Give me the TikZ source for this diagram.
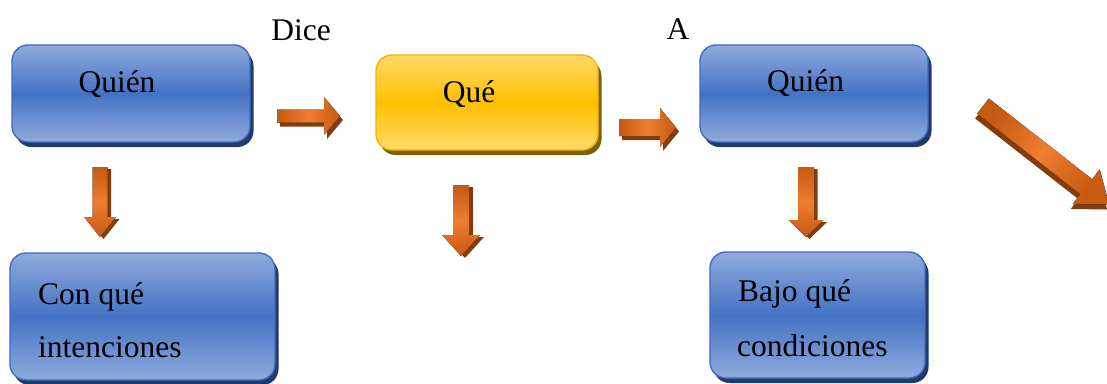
\documentclass[tikz,border=0pt]{standalone}
\usepackage{fontspec}
\setmainfont{Liberation Serif}
\usetikzlibrary{shadows}

\definecolor{blueL}{HTML}{8FAADC}
\definecolor{blueM}{HTML}{4472C4}
\definecolor{blueEdge}{HTML}{3F6CBF}
\definecolor{blueShadow}{HTML}{22396A}
\definecolor{yelL}{HTML}{FFD966}
\definecolor{yelM}{HTML}{FFC000}
\definecolor{yelEdge}{HTML}{F2B700}
\definecolor{yelShadow}{HTML}{7F6000}
\definecolor{orD}{HTML}{C55A11}
\definecolor{orL}{HTML}{ED7D31}
\definecolor{orShadow}{HTML}{843C0C}

\tikzset{
  box/.style={rounded corners=16pt, line width=1.4pt, inner sep=0pt},
  bluebox/.style={box, draw=blueEdge,
    top color=blueL, bottom color=blueL, middle color=blueM,
    general shadow={fill=blueShadow, shadow xshift=3.5pt, shadow yshift=-5pt}},
  yellowbox/.style={box, draw=yelEdge,
    top color=yelL, bottom color=yelL, middle color=yelM,
    general shadow={fill=yelShadow, shadow xshift=3.5pt, shadow yshift=-5pt}},
  label/.style={inner sep=0pt, font=\fontsize{31.5}{38}\selectfont, text=black},
  % block arrow along +x: length, shaft half width, head half width, head length
  arrowpath/.style n args={4}{insert path={
    (0,-#2) -- ({#1-#4},-#2) -- ({#1-#4},-#3) -- (#1,0) --
    ({#1-#4},#3) -- ({#1-#4},#2) -- (0,#2) -- cycle}},
  arrowback/.style={fill=orShadow},
  harrow/.style={left color=orD, right color=orD, middle color=orL},
  varrow/.style={top color=orD, bottom color=orD, middle color=orL},
  darrow/.style={top color=orD, bottom color=orD, middle color=orL, shading angle=52},
}

\begin{document}
\begin{tikzpicture}[x=1pt, y=-1pt]
\useasboundingbox (0,0) rectangle (1107,383);
\clip (0,0) rectangle (1107,383);

% boxes
\node[bluebox, minimum width=238pt, minimum height=97pt] (quien1) at (131,93.5) {};
\node[yellowbox, minimum width=222pt, minimum height=95pt] (que) at (487,102.5) {};
\node[bluebox, minimum width=228pt, minimum height=97pt] (quien2) at (814,93.5) {};
\node[bluebox, minimum width=265pt, minimum height=127pt] (intenciones) at (142.5,316.5) {};
\node[bluebox, minimum width=215pt, minimum height=126pt] (condiciones) at (817.5,315) {};

% texts
\node[label, anchor=base] (tquien1) at (117,92) {Quién};
\node[label, anchor=base] (tque) at (469,102) {Qué};
\node[label, anchor=base] (tquien2) at (805.5,91) {Quién};
\node[label, anchor=base west] (tcon) at (38,304) {Con qué};
\node[label, anchor=base west] (tint) at (38,357) {intenciones};
\node[label, anchor=base west] (tbajo) at (738,301) {Bajo qué};
\node[label, anchor=base west] (tcond) at (737,356) {condiciones};
\node[label, anchor=base] (tdice) at (301,40) {Dice};
\node[label, anchor=base] (ta) at (678,39) {A};

% block arrows: dark copy underneath, shaded arrow on top
\fill[arrowback, shift={(280,120)}, arrowpath={63}{6.5}{19}{16}];
\fill[harrow, shift={(277,116)}, arrowpath={63}{6.5}{19}{16}];

\fill[arrowback, shift={(622,131.5)}, arrowpath={57}{8.5}{19.5}{16}];
\fill[harrow, shift={(619,127.5)}, arrowpath={57}{8.5}{19.5}{16}];

\fill[arrowback, shift={(103.5,169)}, rotate=-90, arrowpath={70}{7.5}{16}{20}];
\fill[varrow, shift={(100,167)}, rotate=-90, arrowpath={70}{7.5}{16}{20}];

\fill[arrowback, shift={(465,187)}, rotate=-90, arrowpath={71}{8}{19}{21}];
\fill[varrow, shift={(461,185)}, rotate=-90, arrowpath={71}{8}{19}{21}];

\fill[arrowback, shift={(809.5,169)}, rotate=-90, arrowpath={70}{8}{17.5}{17}];
\fill[varrow, shift={(806,167)}, rotate=-90, arrowpath={70}{8}{17.5}{17}];

\fill[arrowback, shift={(981,111)}, rotate=-38, arrowpath={160}{9.5}{22}{29}];
\fill[darrow, shift={(983,106)}, rotate=-38, arrowpath={160}{9.5}{22}{29}];
\end{tikzpicture}
\end{document}
